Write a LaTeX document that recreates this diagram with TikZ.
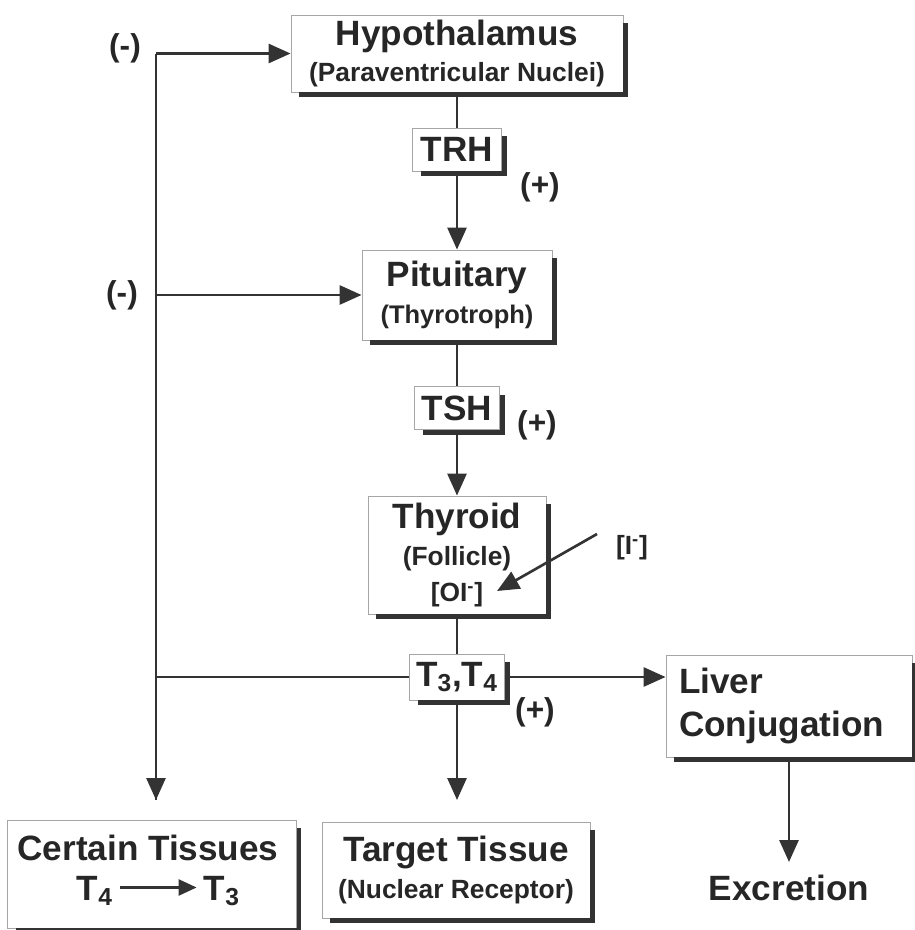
\documentclass[tikz,border=0pt]{standalone}
\usepackage{fontspec}
\setmainfont{Liberation Sans}
\usetikzlibrary{arrows.meta}
\newcommand\sbt{\fontsize{15}{18}\selectfont}
\newcommand\mnt{\fontsize{20}{24}\selectfont}
\newcommand\shd[1]{\draw[shadowline] ([xshift=1.2pt,yshift=-5pt]#1.north east) -- ([xshift=1.2pt,yshift=-1.2pt]#1.south east) -- ([xshift=5pt,yshift=-1.2pt]#1.south west);}
\tikzset{
  box/.style={draw=black!35, line width=0.5pt, fill=white, align=center, inner sep=0pt, text=black!85, font=\bfseries\mnt},
  shadowline/.style={line width=2.8pt, draw=black!80},
  ln/.style={line width=1.6pt, draw=black!80},
  arr/.style={ln, -{Triangle[length=0.44cm,width=0.38cm]}},
  lbl/.style={text=black!85, font=\bfseries\fontsize{18}{20}\selectfont, inner sep=0pt}
}
\begin{document}
\begin{tikzpicture}[x=0.02cm,y=-0.02cm]
\useasboundingbox (0,0) rectangle (914,930);
\fill[white] (0,0) rectangle (914,930);
% boxes
\node[box, minimum width=6.64cm, minimum height=1.54cm] (hyp) at (457,53.5) {Hypothalamus\\[-4pt]{\sbt (Paraventricular Nuclei)}};
\node[box, minimum width=1.78cm, minimum height=0.86cm] (trh) at (457,149.5) {TRH};
\node[box, minimum width=3.8cm, minimum height=1.8cm] (pit) at (457,295) {Pituitary\\[-3pt]{\fontsize{14.5}{17}\selectfont (Thyrotroph)}};
\node[box, minimum width=1.7cm, minimum height=0.86cm] (tsh) at (457,408) {TSH};
\node[box, minimum width=3.56cm, minimum height=2.36cm] (thy) at (457,555) {Thyroid\\[-3pt]{\sbt (Follicle)}\\[-3pt]{\sbt [OI\textsuperscript{-}]}};
\node[box, minimum width=1.9cm, minimum height=0.92cm] (t34) at (457,677) {T\textsubscript{3},T\textsubscript{4}};
\node[box, minimum width=4.92cm, minimum height=2.04cm, align=left, text width=4.4cm] (liv) at (789,706) {Liver\\[0pt]Conjugation};
\node[box, minimum width=5.78cm, minimum height=2.16cm, anchor=center] (cer) at (152,874) {};
\node[box, minimum width=5.36cm, minimum height=1.92cm] (tgt) at (456,870) {Target Tissue\\[-3pt]{\sbt (Nuclear Receptor)}};
\foreach \n in {hyp,trh,pit,tsh,thy,t34,liv,cer,tgt} {\shd{\n}}
% contents of Certain Tissues
\node[text=black!85, font=\bfseries\mnt, inner sep=0pt] (certxt) at (148,848) {Certain Tissues};
\node[text=black!85, font=\bfseries\mnt, inner sep=0pt] (t4) at (95,891) {T\textsubscript{4}};
\node[text=black!85, font=\bfseries\mnt, inner sep=0pt] (t3) at (222,891) {T\textsubscript{3}};
\draw[ln, line width=1.4pt, -{Triangle[length=0.36cm,width=0.32cm]}] ([xshift=4pt,yshift=2pt]t4.east) -- ([xshift=-4pt,yshift=2pt]t3.west);
% excretion
\node[text=black!85, font=\bfseries\mnt, inner sep=0pt] (exc) at (789,888) {Excretion};
% iodide
\node[text=black!85, font=\bfseries\sbt, inner sep=0pt] (iod) at (632,548) {[I\textsuperscript{-}]};
% signs
\node[lbl] (m1) at (125,48) {(-)};
\node[lbl] (m2) at (122,295) {(-)};
\node[lbl] (p1) at (540,187) {(+)};
\node[lbl] (p2) at (537,425) {(+)};
\node[lbl] (p3) at (535,712) {(+)};
% coordinates
\coordinate (ltop) at (156,53.5);
\coordinate (lmid) at (156,295);
\coordinate (lbot) at (156,677);
\coordinate (lend) at (156,800);
\coordinate (tend) at (457,800);
\coordinate (eend) at (789,862);
\coordinate (ia) at (597,534);
\coordinate (ib) at (497,591);
% connectors
\draw[ln] (hyp.south) -- (trh.north);
\draw[arr] (trh.south) -- (pit.north);
\draw[ln] (pit.south) -- (tsh.north);
\draw[arr] (tsh.south) -- (thy.north);
\draw[ln] (thy.south) -- (t34.north);
\draw[arr] (t34.south) -- (tend);
\draw[arr] (t34.east) -- (t34.east -| liv.west);
\draw[arr] (liv.south) -- (eend);
\draw[ln] (ltop) -- (lend);
\draw[arr] (lmid) -- (lend);
\draw[arr] (ltop) -- (hyp.west);
\draw[arr] (lmid) -- (pit.west);
\draw[ln] (lbot) -- (t34.west);
\draw[arr, line width=1.5pt] (ia) -- (ib);
\end{tikzpicture}
\end{document}
